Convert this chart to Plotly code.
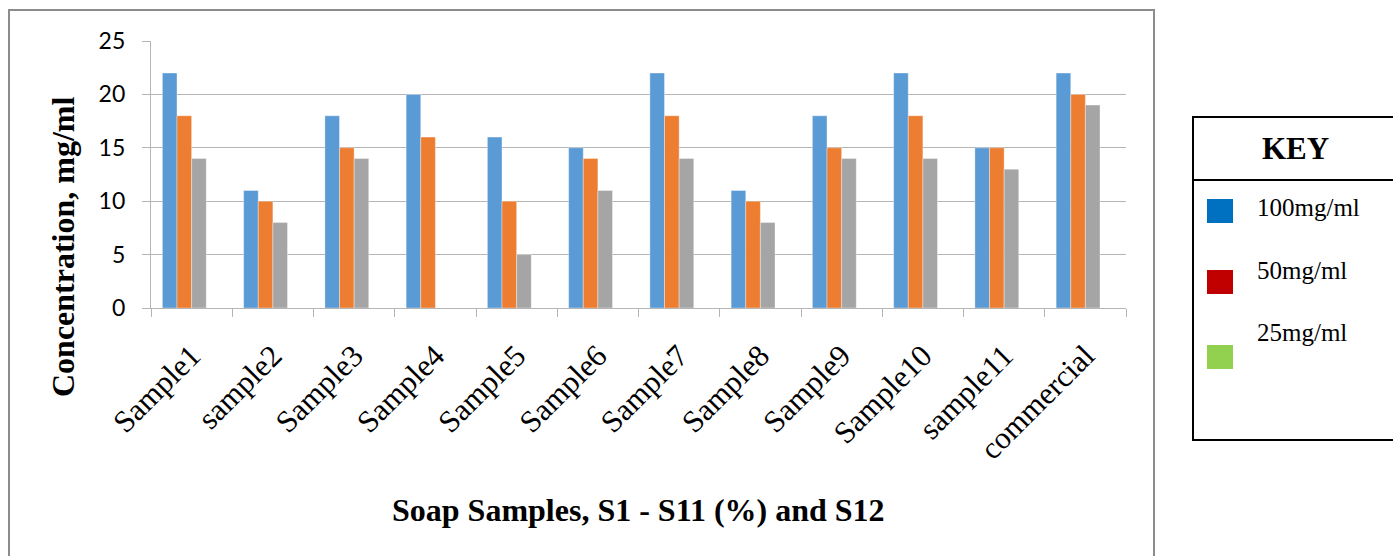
import plotly.graph_objects as go

# Inhibition concentrations per soap sample at three stock strengths
samples = ["Sample1", "sample2", "Sample3", "Sample4", "Sample5", "Sample6",
           "Sample7", "Sample8", "Sample9", "Sample10", "sample11", "commercial"]
conc_100 = [22, 11, 18, 20, 16, 15, 22, 11, 18, 22, 15, 22]
conc_50 = [18, 10, 15, 16, 10, 14, 18, 10, 15, 18, 15, 20]
conc_25 = [14, 8, 14, 0, 5, 11, 14, 8, 14, 14, 13, 19]

series_names = ["100mg/ml", "50mg/ml", "25mg/ml"]
bar_colors = ["#5B9BD5", "#ED7D31", "#A5A5A5"]
key_colors = ["#0070C0", "#C00000", "#92D050"]

W, H = 1393, 556
L, R, T, B = 151, 1126, 41, 308  # plot area in pixels
SERIF = "Liberation Serif, Times New Roman, serif"


def px(x):
    return (x - L) / (R - L)


def py(y):
    return (B - y) / (B - T)


fig = go.Figure()
bar_w = 0.18
for i, (name, vals, col) in enumerate(zip(series_names, [conc_100, conc_50, conc_25], bar_colors)):
    fig.add_trace(go.Bar(
        x=samples, y=vals, name=name,
        marker=dict(color=col, line=dict(color="rgba(255,255,255,0.6)", width=0.6)),
        width=bar_w, offset=-0.36 + i * bar_w, showlegend=False,
    ))

grid = "#b5b5b5"
fig.update_layout(
    width=W, height=H, autosize=False,
    margin=dict(l=L, r=W - R, t=T, b=H - B, autoexpand=False),
    paper_bgcolor="white", plot_bgcolor="white",
    barmode="group",
    xaxis=dict(
        type="category", showline=True, linecolor=grid, linewidth=1.3,
        ticks="outside", tickson="boundaries", ticklen=8, tickcolor=grid, tickwidth=1.3,
        tickangle=-45, ticklabelstandoff=16,
        tickfont=dict(family=SERIF, size=31, color="black"),
        showgrid=False, automargin=False,
    ),
    yaxis=dict(
        range=[0, 25], dtick=5, showgrid=True, gridcolor=grid, gridwidth=1.3,
        showline=True, linecolor=grid, linewidth=1.3,
        ticks="outside", ticklen=8, tickcolor=grid, tickwidth=1.3,
        ticklabelstandoff=12,
        tickfont=dict(family="Lato", size=23, color="black"),
        zeroline=False, automargin=False,
    ),
)

shapes = [
    # outer chart frame
    dict(type="rect", xref="paper", yref="paper", x0=px(9), x1=px(1154), y0=py(570), y1=py(10),
         line=dict(color="#8c8c8c", width=2), fillcolor="rgba(0,0,0,0)", layer="below"),
    # key box and header divider
    dict(type="rect", xref="paper", yref="paper", x0=px(1193), x1=px(1400), y0=py(440), y1=py(117),
         line=dict(color="black", width=2), fillcolor="white"),
    dict(type="line", xref="paper", yref="paper", x0=px(1193), x1=px(1400), y0=py(180), y1=py(180),
         line=dict(color="black", width=2)),
]
swatch_y = [(199, 223), (270, 294), (345, 369)]
for col, (y0, y1) in zip(key_colors, swatch_y):
    shapes.append(dict(type="rect", xref="paper", yref="paper", x0=px(1207), x1=px(1233),
                       y0=py(y1), y1=py(y0), line=dict(width=0), fillcolor=col))
fig.update_layout(shapes=shapes)

annotations = [
    dict(text="<b>Concentration, mg/ml</b>", xref="paper", yref="paper", x=px(63), y=py(247),
         textangle=-90, showarrow=False, xanchor="center", yanchor="middle",
         font=dict(family=SERIF, size=32, color="black")),
    dict(text="<b>Soap Samples, S1 - S11 (%) and S12</b>", xref="paper", yref="paper",
         x=px(638), y=py(510), showarrow=False, xanchor="center", yanchor="middle",
         font=dict(family=SERIF, size=32, color="black")),
    dict(text="<b>KEY</b>", xref="paper", yref="paper", x=px(1295), y=py(148), showarrow=False,
         xanchor="center", yanchor="middle",
         font=dict(family=SERIF, size=31, color="black")),
]
for name, yc in zip(series_names, [207, 270, 332]):
    annotations.append(dict(text=name, xref="paper", yref="paper", x=px(1255), y=py(yc),
                            showarrow=False, xanchor="left", yanchor="middle",
                            font=dict(family=SERIF, size=25, color="black")))
fig.update_layout(annotations=annotations)

fig.write_html("out.html")
